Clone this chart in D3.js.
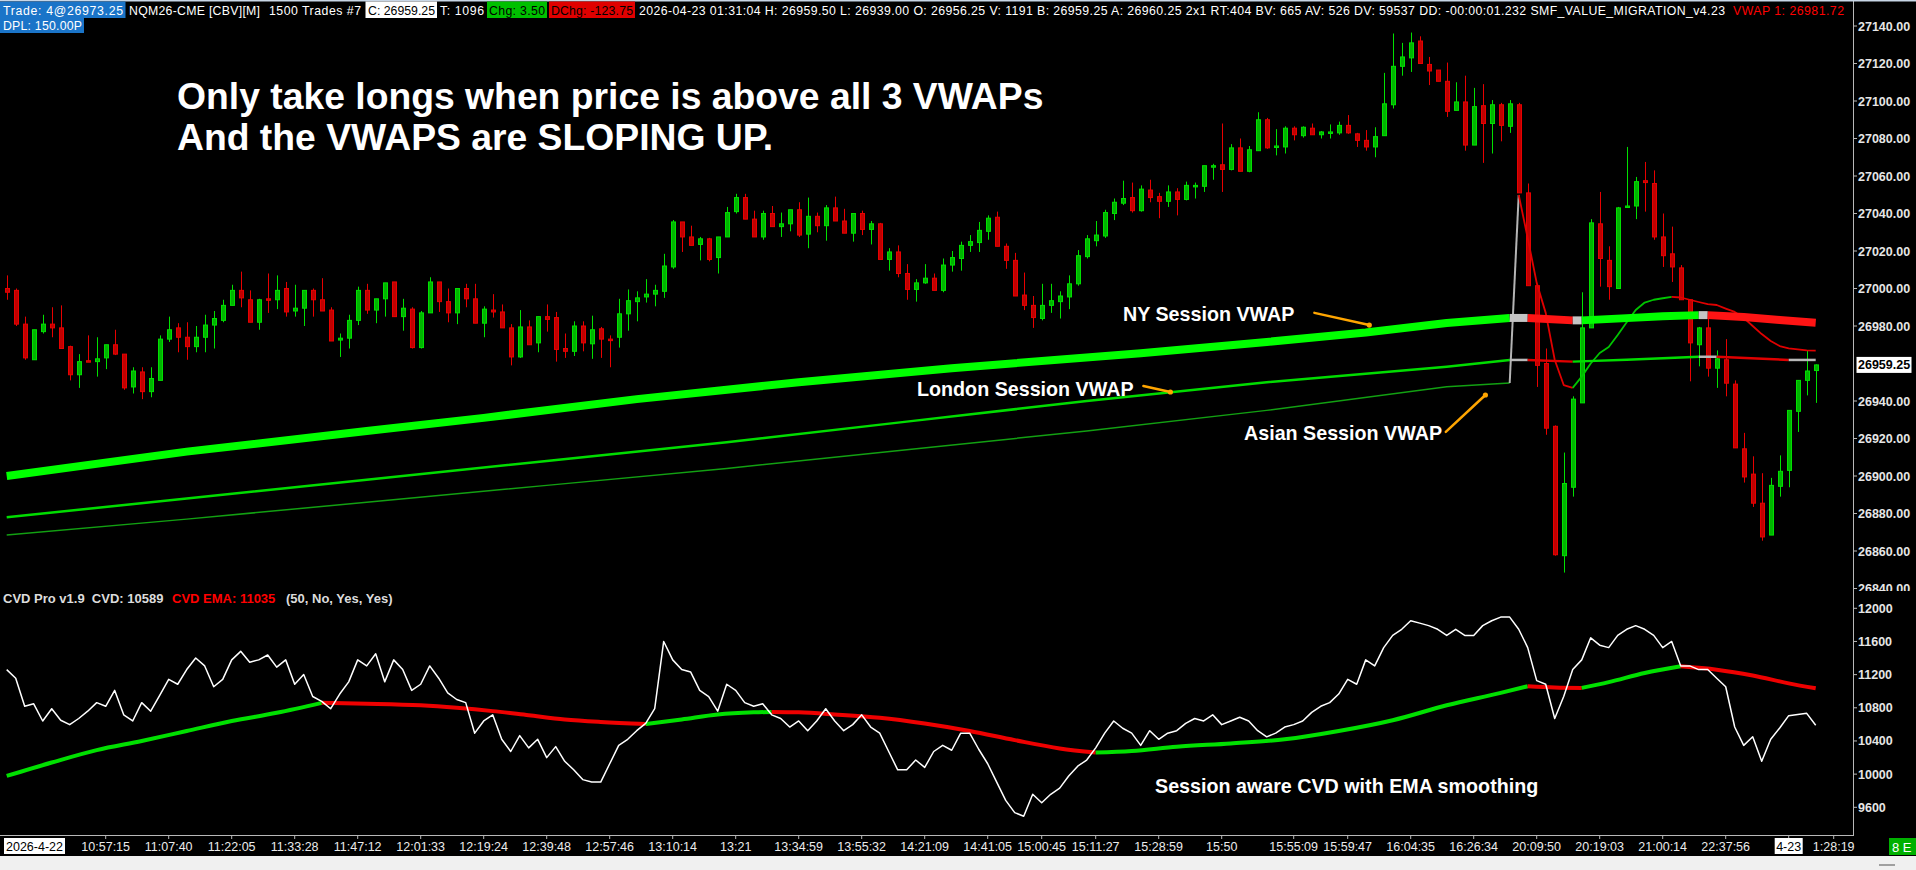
<!DOCTYPE html>
<html><head><meta charset="utf-8">
<script src="https://cdn.jsdelivr.net/npm/d3@7/dist/d3.min.js"></script>
<style>
html,body{margin:0;padding:0;background:#000;overflow:hidden;}
svg{display:block;}
text{white-space:pre;}
</style></head><body>
<svg id="c" width="1916" height="870"></svg>
<script>
// ---------------- DATA ----------------
// OHLC per bar [open, high, low, close]
const candles = [
[27000,27007,26994,26998],[26999,27000,26980,26981],[26981,26985,26962,26963],[26962,26978,26962,26978],[26977,26986,26976,26981],
[26981,26990,26974,26979],[26979,26991,26968,26968],[26969,26969.5,26951,26954],[26954,26965,26947,26961],[26961.5,26975,26961,26961],
[26961,26974,26953,26962.5],[26963,26970,26957,26970],[26970,26978,26964.5,26965],[26965,26965,26946,26947],[26947.5,26958,26944,26956],
[26955.5,26958,26941,26945],[26945,26958,26942,26952],[26951,26975,26951,26973],[26973,26985,26971.5,26978],[26979,26981.5,26966,26974],
[26974,26982,26962,26969],[26969,26980,26966,26974],[26974,26986,26966,26980.5],[26980.5,26988,26968,26984],[26983,26994,26982,26991],
[26991,27002,26991,26999],[26999,27009,26990,26995],[26994,26999,26982,26982],[26982,26994.5,26978,26994],[26994.5,27008,26987,26994],
[26994,27007,26989,26999],[27000,27003.5,26985,26987.5],[26988,27002,26985,26989.5],[26989.5,26999,26980,26999],[26999,27000,26985,26994],
[26994,27005.5,26988,26988],[26988.5,26990,26972,26972],[26972.5,26976,26963.5,26973.5],[26973.5,26986,26968,26983],[26983,27001,26980.5,26999],
[26999,27002.5,26986.5,26988.5],[26988.5,26994.5,26981.5,26994.5],[26994.5,27003,26985,27003],[27003.5,27003.5,26985,26985],[26985,26994.5,26977.5,26989.5],
[26989,26990,26968,26968.5],[26968.5,26988,26968,26987],[26987,27006,26987,27003.5],[27003.5,27003.5,26987.5,26993],[26993,27000,26982,26987],
[26987,27000,26981,27000],[27000,27002.5,26990,26994.5],[26994.5,27002.5,26981.5,26981.5],[26981.5,26990.5,26974,26989],[26988.5,26997,26984.5,26987.5],
[26987.5,26991.5,26979,26979],[26979,26981,26959,26963.5],[26963.5,26988.5,26963,26979.5],[26979.5,26983,26970,26970],[26971,26985,26966,26985],
[26985,26991.5,26977,26983.5],[26984.5,26987.5,26961,26967.5],[26968,26976,26963,26966.5],[26966.5,26982.5,26964,26980],[26980,26982.5,26966.5,26971],
[26970.5,26985.5,26962.5,26978],[26978.5,26979.5,26963,26973],[26973,26975,26958,26972.5],[26974,26994.5,26968.5,26986.5],[26986.5,26999.5,26977.5,26993.5],
[26993,26998.5,26982.5,26995],[26995.5,27005,26992.5,26997],[26997,27002,26990.5,26999],[26998.5,27018.5,26995,27012],[27011.5,27036.5,27010.5,27035.5],
[27035.5,27035.5,27019.5,27027.5],[27027.5,27033.5,27023,27023],[27023.5,27027.5,27015,27026.5],[27026.5,27027,27014.5,27015.5],[27016.5,27027.5,27008,27027.5],
[27027.5,27043.5,27027.5,27040.5],[27041,27050.5,27040,27048.5],[27048.5,27050.5,27037,27037],[27037,27041.5,27027.5,27027.5],[27027.5,27041.5,27026,27040],
[27040,27044,27033,27033],[27033,27040.5,27027.5,27034.5],[27034.5,27042,27030.5,27042],[27042,27046,27027.5,27028.5],[27029,27048.5,27021.5,27038.5],
[27038.5,27040.5,27030,27033.5],[27033.5,27044.5,27025.5,27043],[27043,27049,27036,27036],[27036,27042.5,27029.5,27029.5],[27029.5,27040,27025,27040],
[27040,27041.5,27028.5,27031.5],[27031.5,27036,27023.5,27034.5],[27034.5,27035,27015.5,27015.5],[27015.5,27021.5,27009.5,27019.5],[27019.5,27023,27006,27008],
[27008,27013,26994,26999.5],[26999.5,27005,26993,27003],[27003,27013,27002.5,27005.5],[27005.5,27008,26999,26999],[26999,27016,26998,27012.5],
[27012.5,27020,27009,27016.5],[27016,27025,27009.5,27023],[27023,27028.5,27019.5,27025],[27024.5,27035.5,27019.5,27031],[27030.5,27039,27026,27037.5],
[27038,27041,27022.5,27022.5],[27022.5,27024,27010.5,27015],[27015,27019,26996,26996],[26996.5,27008.5,26988.5,26991],[26991,26996,26979,26984.5],
[26984,27002.5,26983,26991],[26991,27002.5,26987,26993.5],[26993,26998.5,26984,26996],[26995.5,27007,26989,27002.5],[27002.5,27020.5,27001.5,27017.5],
[27017,27028.5,27016,27026.5],[27025.5,27036,27022.5,27028.5],[27028,27042,27027,27040.5],[27040,27048,27036.5,27046],[27045.5,27057.5,27044.5,27048],
[27048.5,27056.5,27040.5,27041.5],[27041.5,27055,27041,27053],[27052.5,27058,27046,27048.5],[27049,27051,27037.5,27046.5],[27046.5,27055,27043.5,27051.5],
[27051.5,27053.5,27039,27047.5],[27047.5,27057,27047,27055],[27054.5,27056.5,27048,27055],[27054.5,27065.5,27051.5,27065.5],[27065.5,27066.5,27058,27065.5],
[27066,27088,27051.5,27063.5],[27063.5,27077,27063,27075],[27075,27080,27062.5,27062.5],[27062.5,27076,27062,27074],[27073.5,27094,27073.5,27090],
[27090,27091,27074.5,27075],[27075.5,27085,27071,27076],[27075.5,27086.5,27072,27085.5],[27085.5,27086.5,27079,27082],[27081.5,27086.5,27080.5,27086],
[27085.5,27088,27082,27082],[27082,27084,27080,27083.5],[27083,27087.5,27080,27083.5],[27083,27089,27082,27087],[27087,27092.5,27082.5,27083],
[27082.5,27083,27075.5,27079],[27079,27084.5,27073.5,27075.5],[27075.5,27086,27070,27081],[27081.5,27115,27081.5,27098.5],[27098,27136,27096,27118.5],
[27118.5,27131,27113.5,27123.5],[27123,27136.5,27115.5,27131],[27132,27134.5,27120,27120],[27119.5,27123.5,27108.5,27116],[27116.5,27116.5,27110.5,27110.5],
[27110.5,27120.5,27091.5,27094.5],[27095,27110,27095,27099.5],[27099.5,27113.5,27073.5,27076.5],[27076.5,27107,27076.5,27097],[27097.5,27109,27067,27088],
[27088,27100.5,27072,27098],[27098,27099,27078.5,27087],[27086.5,27100.5,27083,27098.5],[27098,27099,27051,27051],[27051,27056,27001.5,27001.5],
[27001.5,27001.5,26947.5,26959],[26960,26968,26922,26925.5],[26926.5,26927,26857.5,26858],[26857.5,26912.5,26848.5,26896],[26894,26942.5,26889,26941],
[26939,26998,26939,26979],[26979,27037,26979,27035],[27034.5,27051.5,27001,27016],[27015,27022.5,26994,27001],[27000,27043.5,27000,27043],
[27043.5,27075.5,27043.5,27044],[27044,27059.5,27037,27057],[27057.5,27067.5,27041,27056.5],[27056,27063,27026,27027.5],[27027.5,27040,27011.5,27017.5],
[27018.5,27033,27003.5,27011.5],[27011,27012.5,26994,26994],[26994,26994,26950.5,26971],[26970,26979.5,26958.5,26979],[26979,26987.5,26953,26957.5],
[26957.5,26967,26947,26962.5],[26962,26973,26942.5,26949.5],[26949,26951,26915,26915],[26914.5,26923,26896.5,26899.5],[26901,26910.5,26883.5,26885.5],
[26885.5,26901.5,26865.5,26867.5],[26868.5,26899,26868.5,26895],[26894.5,26911,26889,26902.5],[26903,26935,26894,26935],[26934.5,26951,26923.5,26951],
[26951,26967,26943,26956],[26956.25,26959.5,26939,26959.25]
];
const lastPrice = 26959.25;

// Session VWAPs: [bar, price]
const nyVwap = [[0,26900],[20,26913],[40,26924],[53,26931],[70,26941],[88,26950],[105,26957.5],[126,26965.5],[140,26971.5],[151,26976.5],
  [160,26981.6],[167,26984.3],[169,26984.3],[174,26983.0],[175,26983.0],[180,26984.2],[184,26985.2],[188,26985.8],[189,26985.8],
  [193,26984.8],[197,26983.2],[201,26981.72]];
const londonVwap = [[0,26878],[20,26888],[40,26898],[60,26908],[80,26918],[100,26929],[120,26940],[140,26950],[160,26958.3],
  [167,26961.9],[169,26961.9],[174,26961.0],[180,26962.0],[188,26963.6],[190,26963.6],[198,26961.9],[201,26961.9]];
const asianVwapPrev = [[0,26868.5],[20,26877],[40,26886],[60,26895],[80,26904],[100,26914],[120,26924],[140,26935],[160,26947.6],[167,26949.6]];
const asianNewStart = 168;
const asianVwapNew = [27049.9,27026.9,27003,26987,26962,26948.5,26947,26953,26960,26965.6,26968.8,26975.2,26982,26988.5,26992.5,26994,
  26994.8,26995.5,26995.2,26994,26992.8,26991.7,26991.2,26989.3,26987.5,26984.3,26980,26975.7,26972,26969.3,26968.1,26967.5,26967.0,26966.9];

// CVD per bar
const cvd = [11260,11157,10818,10848,10641,10789,10650,10597,10671,10759,10862,10818,11010,10715,10641,10862,10759,10950,11143,11084,
 11261,11400,11305,11054,11143,11378,11481,11350,11378,11437,11290,11378,11084,11202,10936,10877,10789,10966,11113,11378,
 11305,11452,11113,11378,11261,11010,11084,11305,11157,10981,10900,10862,10494,10641,10715,10420,10273,10465,10317,10420,
 10199,10332,10155,10052,9934,9904,9904,10125,10347,10420,10524,10612,10789,11600,11378,11261,11231,11010,10936,10759,
 11084,11010,10862,10818,10848,10715,10671,10568,10641,10524,10641,10789,10641,10524,10597,10715,10568,10494,10273,10052,
 10052,10170,10081,10273,10347,10288,10494,10494,10300,10125,9904,9683,9536,9492,9757,9654,9757,9831,9978,10096,
 10170,10317,10494,10641,10553,10494,10347,10524,10420,10494,10524,10612,10671,10641,10715,10597,10641,10686,10641,10524,
 10450,10494,10568,10597,10641,10745,10818,10862,10966,11143,11084,11378,11305,11526,11673,11747,11850,11821,11791,11747,
 11673,11747,11673,11673,11791,11850,11894,11894,11747,11526,11128,11084,10671,10936,11261,11378,11644,11555,11526,11673,
 11747,11791,11747,11673,11526,11600,11305,11305,11261,11261,11157,11054,10568,10347,10450,10155,10420,10556,10705,10720,
 10733,10589];
const cvdEma = [[0,9978],[5,10140],[10,10290],[15,10400],[20,10520],[25,10640],[30,10740],[35,10860],[40,10850],[46,10830],[50,10800],
 [54,10760],[58,10710],[62,10660],[66,10630],[71,10605],[75,10660],[79,10720],[83,10745],[85,10750],[88,10745],[92,10720],[97,10680],
 [102,10610],[107,10520],[112,10410],[117,10310],[121,10260],[125,10280],[130,10330],[136,10370],[142,10420],[148,10520],[154,10650],
 [160,10830],[166,10980],[169,11060],[172,11045],[175,11040],[178,11110],[182,11220],[186,11300],[190,11260],[194,11190],[198,11095],[201,11035]];

const priceTicks = [27140,27120,27100,27080,27060,27040,27020,27000,26980,26960,26940,26920,26900,26880,26860,26840];
const cvdTicks = [12000,11600,11200,10800,10400,10000,9600];
const timeLabels = ["10:57:15","11:07:40","11:22:05","11:33:28","11:47:12","12:01:33","12:19:24","12:39:48","12:57:46","13:10:14",
 "13:21","13:34:59","13:55:32","14:21:09","14:41:05","15:00:45","15:11:27","15:28:59","15:50","15:55:09","15:59:47","16:04:35",
 "16:26:34","20:09:50","20:19:03","21:00:14","22:37:56","4-23","1:28:19"];
const timeLabelBars = [11,18,25,32,39,46,53,60,67,74,81,88,95,102,109,115,121,128,135,143,149,156,163,170,177,184,191,198,203];
const dateLabels = ["4-23"];
const startDate = "2026-4-22";

// ---------------- DRAW ----------------
const W = 1916, H = 870;
const FONT = "'Liberation Sans', Arial, Helvetica, sans-serif";
const svg = d3.select('#c');
svg.append('rect').attr('width', W).attr('height', H).attr('fill', '#000');

const x = d3.scaleLinear().domain([0, 201]).range([6.7, 1815.7]);
const yP = d3.scaleLinear().domain([26840, 27140]).range([588.5, 26]);
const yC = d3.scaleLinear().domain([9600, 12000]).range([807.3, 608.3]);

const defs = svg.append('defs');
defs.append('clipPath').attr('id', 'cp').append('rect').attr('x', 0).attr('y', 0).attr('width', 1852).attr('height', 590);
defs.append('clipPath').attr('id', 'cc').append('rect').attr('x', 0).attr('y', 590).attr('width', 1852).attr('height', 244);
defs.append('clipPath').attr('id', 'ca').append('rect').attr('x', 1853).attr('y', 0).attr('width', 63).attr('height', 591);

const gP = svg.append('g').attr('clip-path', 'url(#cp)');
const gC = svg.append('g').attr('clip-path', 'url(#cc)');

// candles
const UP_FILL = '#00b400', UP_STROKE = '#00e000', DN_FILL = '#c00000', DN_STROKE = '#e80000';
const gCand = gP.append('g');
candles.forEach((d, i) => {
  const [o, h, l, c] = d;
  const up = c >= o;
  const cx = Math.round(x(i)) + 0.5;
  gCand.append('line').attr('x1', cx).attr('x2', cx).attr('y1', yP(h)).attr('y2', yP(l))
    .attr('stroke', up ? UP_STROKE : DN_STROKE).attr('stroke-width', 1);
  const top = yP(Math.max(o, c)), bot = yP(Math.min(o, c));
  gCand.append('rect').attr('x', cx - 2).attr('width', 4)
    .attr('y', top).attr('height', Math.max(1.5, bot - top))
    .attr('fill', up ? UP_FILL : DN_FILL).attr('stroke', up ? UP_STROKE : DN_STROKE).attr('stroke-width', 1);
});

// colored trend lines
function runs(pts, colorOf) {
  const out = [];
  for (let k = 0; k < pts.length - 1; k++) {
    const c = colorOf(pts[k], pts[k + 1]);
    const last = out[out.length - 1];
    if (last && last.c === c) last.pts.push(pts[k + 1]);
    else out.push({ c, pts: [pts[k], pts[k + 1]] });
  }
  return out;
}
const trend = (up, dn, flat, eps) => (a, b) => {
  const s = (b[1] - a[1]) / (b[0] - a[0]);
  return s > eps ? up : (s < -eps ? dn : flat);
};
function drawTrend(g, pts, yS, colorOf, width, curve) {
  const ln = d3.line().x(d => x(d[0])).y(d => yS(d[1])).curve(curve || d3.curveLinear);
  runs(pts, colorOf).forEach(r => {
    g.append('path').attr('d', ln(r.pts)).attr('fill', 'none').attr('stroke', r.c)
      .attr('stroke-width', width).attr('stroke-linejoin', 'round');
  });
}
const gV = gP.append('g');
drawTrend(gV, asianVwapPrev, yP, () => '#12a012', 1.5);
const asianNewPts = asianVwapNew.map((v, k) => [asianNewStart + k, v]);
const lastPrev = asianVwapPrev[asianVwapPrev.length - 1];
gV.append('path').attr('d', d3.line().x(d => x(d[0])).y(d => yP(d[1]))([lastPrev, asianNewPts[0]]))
  .attr('stroke', '#b4b4b4').attr('stroke-width', 2).attr('fill', 'none');
drawTrend(gV, asianNewPts, yP, trend('#00c400', '#e00000', '#e00000', 0), 1.8);
drawTrend(gV, londonVwap, yP, trend('#00dc00', '#e00000', '#b8b8b8', 0.02), 2.5);
drawTrend(gV, nyVwap, yP, trend('#00ff00', '#ff1414', '#c4c4c4', 0.02), 8);

// CVD panel
drawTrend(gC, cvdEma, yC, trend('#00e000', '#ee0000', '#ee0000', 0), 4, d3.curveMonotoneX);
gC.append('path').attr('d', d3.line().x((d, i) => x(i)).y(d => yC(d))(cvd))
  .attr('fill', 'none').attr('stroke', '#ffffff').attr('stroke-width', 1.5).attr('stroke-linejoin', 'round');

// right axis
svg.append('line').attr('x1', 1853.5).attr('x2', 1853.5).attr('y1', 0).attr('y2', 836).attr('stroke', '#b8b8b8').attr('stroke-width', 1);
const gA = svg.append('g').attr('clip-path', 'url(#ca)');
priceTicks.forEach(p => {
  if (Math.abs(yP(p) - yP(lastPrice)) < 10) return;
  gA.append('line').attr('x1', 1853).attr('x2', 1857).attr('y1', yP(p)).attr('y2', yP(p)).attr('stroke', '#b8b8b8');
  gA.append('text').attr('x', 1858).attr('y', yP(p) + 4.5).text(d3.format('.2f')(p))
    .attr('fill', '#e6e6e6').attr('font-family', FONT).attr('font-weight', 'bold').attr('font-size', 12.5);
});
svg.append('rect').attr('x', 1856.5).attr('y', yP(lastPrice) - 8).attr('width', 55).attr('height', 16).attr('fill', '#ffffff');
svg.append('text').attr('x', 1858).attr('y', yP(lastPrice) + 4.5).text(d3.format('.2f')(lastPrice))
  .attr('fill', '#000').attr('font-family', FONT).attr('font-weight', 'bold').attr('font-size', 12.5);
cvdTicks.forEach(v => {
  svg.append('line').attr('x1', 1853).attr('x2', 1857).attr('y1', yC(v)).attr('y2', yC(v)).attr('stroke', '#b8b8b8');
  svg.append('text').attr('x', 1858).attr('y', yC(v) + 4.5).text(v)
    .attr('fill', '#e6e6e6').attr('font-family', FONT).attr('font-weight', 'bold').attr('font-size', 12.5);
});

// time axis
svg.append('line').attr('x1', 0).attr('x2', 1854).attr('y1', 835.5).attr('y2', 835.5).attr('stroke', '#b8b8b8');
svg.append('rect').attr('x', 4).attr('y', 838).attr('width', 61).attr('height', 16).attr('fill', '#fff');
svg.append('text').attr('x', 34.5).attr('y', 851).attr('text-anchor', 'middle').text(startDate)
  .attr('fill', '#000').attr('font-family', FONT).attr('font-size', 12.5);
timeLabels.forEach((t, k) => {
  const tx = x(timeLabelBars[k]);
  svg.append('line').attr('x1', tx).attr('x2', tx).attr('y1', 835).attr('y2', 839).attr('stroke', '#b8b8b8');
  const isDate = dateLabels.includes(t);
  if (isDate) svg.append('rect').attr('x', tx - 14).attr('y', 838).attr('width', 28).attr('height', 16).attr('fill', '#fff');
  svg.append('text').attr('x', tx).attr('y', 851).attr('text-anchor', 'middle').text(t)
    .attr('fill', isDate ? '#000' : '#ececec').attr('font-family', FONT).attr('font-size', 12.5);
});
svg.append('rect').attr('x', 1889).attr('y', 838).attr('width', 27).attr('height', 17).attr('fill', '#00b000');
svg.append('text').attr('x', 1892).attr('y', 851.5).text('8 E').attr('fill', '#fff').attr('font-family', FONT).attr('font-size', 13);
svg.append('rect').attr('x', 0).attr('y', 856).attr('width', W).attr('height', 14).attr('fill', '#f0f0f0');
svg.append('rect').attr('x', 1879).attr('y', 864).attr('width', 16).attr('height', 2).attr('fill', '#a0a0a0');

// header
svg.append('rect').attr('x', 0).attr('y', 0).attr('width', W).attr('height', 1.5).attr('fill', '#c8d6e6');
function hbox(x0, x1, y0, y1, fill) { svg.append('rect').attr('x', x0).attr('y', y0).attr('width', x1 - x0).attr('height', y1 - y0).attr('fill', fill); }
function htxt(t, x0, x1, y, fill) {
  svg.append('text').attr('x', x0).attr('y', y).text(t).attr('fill', fill).attr('font-family', FONT).attr('font-size', 12.3)
    .attr('textLength', x1 - x0).attr('lengthAdjust', 'spacing');
}
hbox(0, 125.5, 1.5, 18, '#1a74c8');
htxt('Trade: 4@26973.25', 3, 123, 14.5, '#fff');
htxt('NQM26-CME [CBV][M]', 129, 260, 14.5, '#fff');
htxt('1500 Trades #7', 269, 361, 14.5, '#fff');
hbox(365.5, 437, 1.5, 18, '#fff');
htxt('C: 26959.25', 368, 435, 14.5, '#000');
htxt('T: 1096', 440, 484, 14.5, '#fff');
hbox(487, 547, 1.5, 18, '#00c000');
htxt('Chg: 3.50', 489, 545, 14.5, '#000');
hbox(549, 635, 1.5, 18, '#e00000');
htxt('DChg: -123.75', 551, 633, 14.5, '#000');
htxt('2026-04-23 01:31:04 H: 26959.50 L: 26939.00 O: 26956.25 V: 1191 B: 26959.25 A: 26960.25 2x1 RT:404 BV: 665 AV: 526 DV: 59537 DD: -00:00:01.232 SMF_VALUE_MIGRATION_v4.23', 639, 1725, 14.5, '#fff');
htxt('VWAP 1: 26981.72', 1733, 1844, 14.5, '#ff0000');
hbox(0, 84, 18, 33, '#1a74c8');
htxt('DPL: 150.00P', 3, 82, 30, '#fff');

// CVD header
const ch = (t, x0, fill) => svg.append('text').attr('x', x0).attr('y', 602.5).text(t).attr('fill', fill)
  .attr('font-family', FONT).attr('font-weight', 'bold').attr('font-size', 13);
ch('CVD Pro v1.9  CVD: 10589', 3, '#dcdcdc');
ch('CVD EMA: 11035', 172, '#ff0000');
ch('(50, No, Yes, Yes)', 286, '#dcdcdc');

// annotations
const ann = (t, x0, y0, size) => svg.append('text').attr('x', x0).attr('y', y0).text(t).attr('fill', '#ffffff')
  .attr('font-family', FONT).attr('font-weight', 'bold').attr('font-size', size);
ann('Only take longs when price is above all 3 VWAPs', 177, 108.5, 37.3);
ann('And the VWAPS are SLOPING UP.', 177, 150, 37.3);
ann('NY Session VWAP', 1123, 320.5, 19.7);
ann('London Session VWAP', 917, 395.5, 19.7);
ann('Asian Session VWAP', 1244, 439.5, 19.7);
ann('Session aware CVD with EMA smoothing', 1155, 792.5, 19.7);

const arrows = [
  [[145.3, 26987], [151.4, 26980.5]],
  [[126.3, 26948], [129.3, 26944.8]],
  [[159.9, 26923.5], [164.3, 26943.2]]
];
arrows.forEach(a => {
  svg.append('line').attr('x1', x(a[0][0])).attr('y1', yP(a[0][1])).attr('x2', x(a[1][0])).attr('y2', yP(a[1][1]))
    .attr('stroke', '#ffa500').attr('stroke-width', 2.5).attr('stroke-linecap', 'round');
  svg.append('circle').attr('cx', x(a[1][0])).attr('cy', yP(a[1][1])).attr('r', 2.6).attr('fill', '#ffa500');
});
</script>
</body></html>
